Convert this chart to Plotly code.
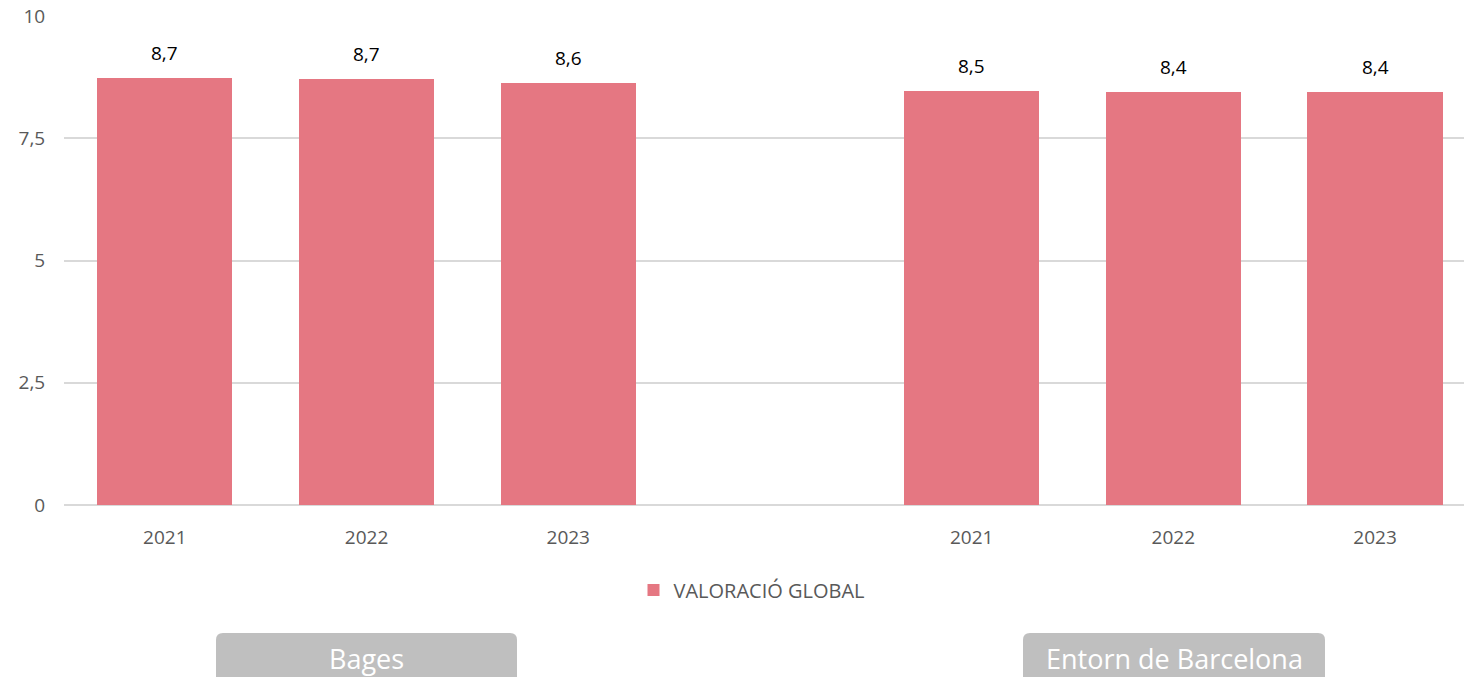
import plotly.graph_objects as go

# Data
groups = ["Bages", "Entorn de Barcelona"]
years = ["2021", "2022", "2023"]
bages_values = [8.73, 8.71, 8.63]
entorn_values = [8.47, 8.44, 8.44]
series_name = "VALORACIÓ GLOBAL"
y_ticks = [0, 2.5, 5, 7.5, 10]

BAR_COLOR = "#E57782"
TEXT_GRAY = "#595959"
FONT = "Open Sans, Lato, sans-serif"

# Slot positions: 3 bars, an empty slot, 3 bars
x_pos = [0, 1, 2, 4, 5, 6]
x_labels = years + years
values = bages_values + entorn_values

fig = go.Figure()
fig.add_trace(go.Bar(
    x=x_pos, y=values, name=series_name,
    marker=dict(color=BAR_COLOR, line=dict(width=0)),
    width=0.67, showlegend=True,
))

W, H = 1464, 677
ml, mr, mt, mb = 64, 0, 16, 172
pw, ph = W - ml - mr, H - mt - mb
slot = 201.7
x_max = pw / slot - 0.5

def fmt(v):
    return f"{v:.1f}".replace(".", ",")

annotations = []
for xp, v in zip(x_pos, values):
    annotations.append(dict(
        x=xp, y=v, xref="x", yref="y", text=fmt(v), showarrow=False,
        yshift=25, font=dict(size=19, color="#000000", family=FONT),
    ))

def px_to_paper_x(px):
    return (px - ml) / pw

def px_to_paper_y(py):
    return (H - mb - py) / ph

shapes = []
box_specs = [(216, 517), (1023, 1325)]
for (bx0, bx1), label in zip(box_specs, groups):
    x0, x1 = px_to_paper_x(bx0), px_to_paper_x(bx1)
    y_top = px_to_paper_y(633)
    y_bot = px_to_paper_y(690)
    rx, ry = 7 / pw, 7 / ph
    path = (f"M {x0},{y_bot} L {x0},{y_top - ry} Q {x0},{y_top} {x0 + rx},{y_top} "
            f"L {x1 - rx},{y_top} Q {x1},{y_top} {x1},{y_top - ry} L {x1},{y_bot} Z")
    shapes.append(dict(type="path", path=path, xref="paper", yref="paper",
                       fillcolor="#BFBFBF", line=dict(width=0), layer="above"))
    annotations.append(dict(
        x=(x0 + x1) / 2, y=px_to_paper_y(658), xref="paper", yref="paper",
        text=label, showarrow=False, xanchor="center", yanchor="middle",
        font=dict(size=27, color="#FFFFFF", family=FONT),
    ))

fig.update_layout(
    width=W, height=H,
    margin=dict(l=ml, r=mr, t=mt, b=mb, pad=0),
    paper_bgcolor="white", plot_bgcolor="white",
    separators=",.",
    font=dict(family=FONT, color=TEXT_GRAY, size=19),
    bargap=0,
    xaxis=dict(
        range=[-0.5, x_max], tickmode="array", tickvals=x_pos, ticktext=x_labels,
        showgrid=False, zeroline=False, showline=False,
        ticks="outside", ticklen=15, tickcolor="rgba(0,0,0,0)",
        tickfont=dict(size=19, color=TEXT_GRAY),
    ),
    yaxis=dict(
        range=[0, 10], tickmode="array", tickvals=y_ticks,
        ticktext=[fmt(t).rstrip("0").rstrip(",") if t != int(t) else str(int(t)) for t in y_ticks],
        showgrid=True, gridcolor="#D9D9D9", gridwidth=2,
        zeroline=True, zerolinecolor="#D9D9D9", zerolinewidth=2,
        ticks="outside", ticklen=14, tickcolor="rgba(0,0,0,0)",
        tickfont=dict(size=19, color=TEXT_GRAY),
    ),
    legend=dict(
        orientation="h", x=px_to_paper_x(752), y=px_to_paper_y(590),
        xanchor="center", yanchor="middle",
        font=dict(size=20, color=TEXT_GRAY), itemwidth=30,
    ),
    annotations=annotations,
    shapes=shapes,
)

fig.write_html(
    "out.html",
    config={"displayModeBar": False},
    post_script="document.body.style.margin='0';document.body.style.overflow='hidden';",
)
